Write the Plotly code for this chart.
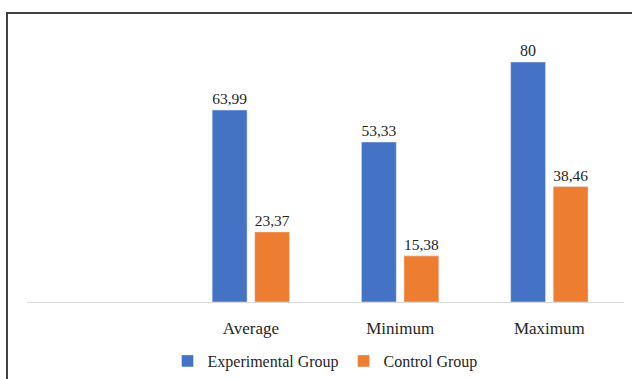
import plotly.graph_objects as go

categories = ["Average", "Minimum", "Maximum"]
experimental = [63.99, 53.33, 80]
control = [23.37, 15.38, 38.46]
series_names = ["Experimental Group", "Control Group"]

def fmt(v):
    return f"{v:g}".replace(".", ",")

L, R, T, B = 27, 8, 40, 77
W, H = 632, 379
pw, ph = W - L - R, H - T - B

font = dict(family="Liberation Serif, Times New Roman, serif", size=16, color="#262626")
tick_font = dict(family="Liberation Serif, Times New Roman, serif", size=17, color="#262626")

fig = go.Figure()
fig.add_trace(go.Bar(x=categories, y=experimental, name=series_names[0],
                     marker_color="#4472C4", text=[fmt(v) for v in experimental],
                     textposition="outside", textfont=font, cliponaxis=False))
fig.add_trace(go.Bar(x=categories, y=control, name=series_names[1],
                     marker_color="#ED7D31", text=[fmt(v) for v in control],
                     textposition="outside", textfont=font, cliponaxis=False))

def px_x(p):
    return (p - L) / pw

def px_y(p):
    return (H - B - p) / ph

fig.update_layout(
    width=W, height=H,
    margin=dict(l=L, r=R, t=T, b=B, autoexpand=False),
    paper_bgcolor="white", plot_bgcolor="white",
    barmode="group", bargap=0.43, bargroupgap=0.18,
    font=font,
    showlegend=True,
    legend=dict(orientation="h", x=px_x(325), xanchor="center",
                yref="container", y=(H - 361) / H, yanchor="middle", font=font,
                itemwidth=30, traceorder="normal"),
    xaxis=dict(range=[-1.5, 2.5], showline=True, linecolor="#d9d9d9", linewidth=1,
               showgrid=False, ticks="", tickfont=tick_font, ticklabelstandoff=11,
               fixedrange=True),
    yaxis=dict(range=[0, ph / 3.0], visible=False, showgrid=False, zeroline=False),
    shapes=[dict(type="rect", xref="paper", yref="paper",
                 x0=px_x(7), x1=px_x(645), y0=px_y(395), y1=px_y(13),
                 line=dict(color="#404040", width=2), fillcolor="rgba(0,0,0,0)",
                 layer="above")],
)

fig.write_html("out.html")
